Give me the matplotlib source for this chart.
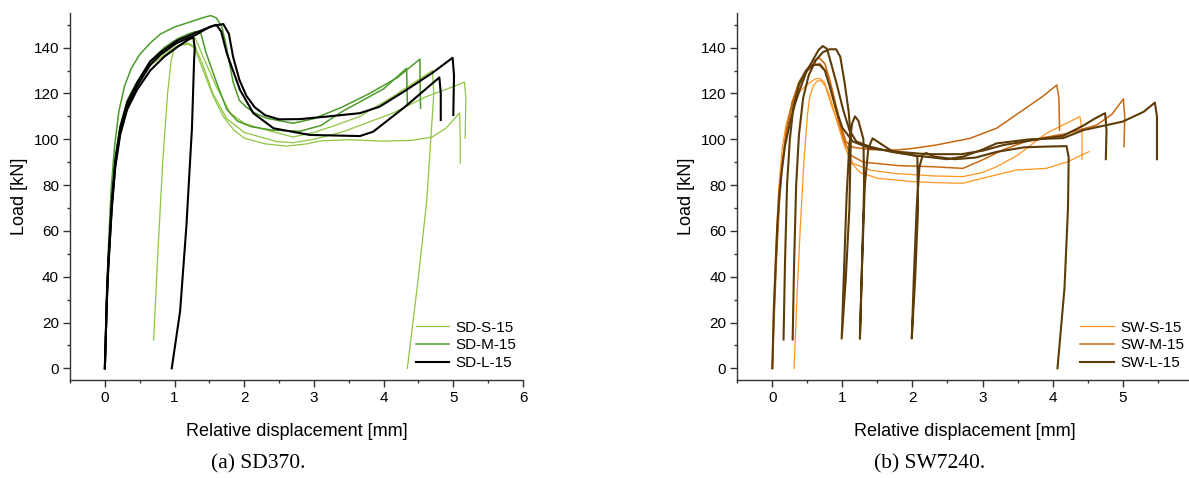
import matplotlib
matplotlib.use("Agg")
import matplotlib.pyplot as plt
from matplotlib.ticker import MultipleLocator

plt.rcParams['font.family'] = ['Liberation Sans', 'DejaVu Sans']

# ---- (a) SD370 : load-displacement curves, one list per specimen ----
sd_s_x = [
    [0.70, 0.76, 0.83, 0.90, 0.95, 0.99, 1.05, 1.20, 1.28, 1.35, 1.45, 1.55, 1.70, 1.85, 2.00, 2.30, 2.60, 2.90, 3.10, 3.50, 4.00, 4.40, 4.70, 4.90, 5.09, 5.10, 5.10],
    [0, 0.03, 0.05, 0.10, 0.15, 0.22, 0.32, 0.46, 0.65, 0.85, 1.05, 1.20, 1.30, 1.41, 1.60, 1.80, 2.00, 2.22, 2.70, 3.00, 3.30, 3.66, 4.13, 4.50, 4.70, 4.72, 4.62, 4.50, 4.34],
    [0, 0.03, 0.05, 0.10, 0.15, 0.22, 0.32, 0.46, 0.65, 0.85, 1.05, 1.20, 1.30, 1.40, 1.55, 1.75, 2.00, 2.46, 2.70, 3.00, 3.42, 4.13, 4.61, 5.00, 5.16, 5.18, 5.17],
]
sd_s_y = [
    [12.3, 50, 90, 120, 134, 139.5, 141, 141.5, 140, 135, 127, 119, 110, 104, 100.5, 98, 97, 98, 99.3, 99.8, 99.2, 99.5, 101, 105, 111.5, 100, 89.6],
    [0, 30, 45, 72, 90, 104, 115, 124, 133, 139, 143, 145, 144, 136, 123, 111.4, 107, 104.8, 101, 103, 106, 110, 118.6, 126, 130, 120, 73.5, 40, 0],
    [0, 32, 46, 72, 90, 104, 115, 123.5, 132, 137, 141, 142, 140, 133, 120, 109, 103, 99, 98.5, 100, 103.3, 111.4, 118.6, 123, 125, 118, 100.5],
]
sd_m_x = [
    [0, 0.03, 0.05, 0.09, 0.14, 0.20, 0.28, 0.38, 0.50, 0.65, 0.80, 1.00, 1.20, 1.40, 1.52, 1.60, 1.68, 1.74, 1.84, 1.93, 2.03, 2.15, 2.32, 2.70, 3.00, 3.40, 3.80, 4.20, 4.52, 4.53],
    [0, 0.03, 0.05, 0.10, 0.15, 0.22, 0.32, 0.46, 0.65, 0.85, 1.05, 1.20, 1.30, 1.38, 1.45, 1.60, 1.75, 1.90, 2.10, 2.40, 2.80, 3.10, 3.40, 3.70, 4.00, 4.33, 4.34],
]
sd_m_y = [
    [0, 35, 52, 78, 97, 112, 123, 131, 137, 142, 146, 149, 151, 153, 154, 153, 149, 141, 125, 117, 114, 111.5, 109.2, 107, 109, 114, 120, 127, 135, 113.5],
    [0, 33, 48, 74, 92, 106, 117, 125, 134, 140, 144, 146, 147, 146, 138, 125, 113, 108, 105.5, 104, 103.5, 106, 112, 117, 122, 131, 115.7],
]
sd_l_x = [
    [0, 0.03, 0.05, 0.10, 0.15, 0.22, 0.32, 0.46, 0.65, 0.80, 1.03, 1.30, 1.55, 1.70, 1.78, 1.84, 1.93, 2.03, 2.15, 2.30, 2.50, 2.80, 3.18, 3.66, 3.94, 4.30, 4.70, 4.99, 5.01, 5.00],
    [0, 0.03, 0.05, 0.10, 0.15, 0.22, 0.32, 0.46, 0.65, 0.80, 1.03, 1.30, 1.50, 1.60, 1.67, 1.75, 1.94, 2.13, 2.42, 2.94, 3.66, 3.85, 4.30, 4.80, 4.82, 4.82],
    [0, 0.03, 0.05, 0.10, 0.15, 0.22, 0.32, 0.46, 0.65, 0.85, 1.05, 1.20, 1.27, 1.29, 1.28, 1.25, 1.17, 1.08, 0.96],
]
sd_l_y = [
    [0, 33, 47, 73, 91, 105, 116, 124.5, 134, 138, 143, 146.5, 149.5, 150.3, 146, 136, 126, 119, 114, 110.5, 108.7, 108.8, 109.9, 111.4, 114.2, 121, 129, 135.6, 128, 110.6],
    [0, 31, 45, 71, 89, 103, 114, 123, 132.5, 137, 142, 145.5, 149, 150, 147, 137.5, 121.5, 111.4, 104.8, 101.9, 101.4, 103.3, 114, 127, 120, 108.4],
    [0, 30, 44, 70, 88, 102, 113, 121.5, 130, 136, 140.5, 143.5, 144.5, 140, 134, 105, 62, 25, 0],
]

# ---- (b) SW7240 ----
sw_s_x = [
    [0.31, 0.35, 0.40, 0.45, 0.50, 0.53, 0.58, 0.64, 0.70, 0.76, 0.84, 0.96, 1.05, 1.15, 1.40, 1.77, 2.30, 2.72, 3.00, 3.20, 3.50, 3.91, 4.20, 4.39, 4.42, 4.42],
    [0, 0.02, 0.05, 0.09, 0.14, 0.20, 0.28, 0.38, 0.50, 0.62, 0.68, 0.74, 0.82, 0.92, 1.02, 1.12, 1.25, 1.50, 2.00, 2.40, 2.72, 3.00, 3.49, 3.91, 4.20, 4.52],
]
sw_s_y = [
    [0, 30, 62, 90, 110, 118, 123, 125.5, 125.5, 123, 115, 105.5, 96, 89.5, 86.5, 85, 84, 83.7, 85.5, 88, 93, 102.6, 107, 109.9, 104, 91.3],
    [0, 25, 52, 78, 96, 107, 115, 120.5, 124, 126.5, 126.5, 125, 119, 108, 98, 90, 85.5, 83, 81.5, 81, 80.8, 83, 86.6, 87.3, 90, 94.6],
]
sw_m_x = [
    [0, 0.02, 0.05, 0.09, 0.14, 0.20, 0.28, 0.38, 0.50, 0.60, 0.675, 0.75, 0.82, 0.90, 0.98, 1.05, 1.15, 1.40, 1.77, 2.00, 2.34, 2.82, 3.20, 3.58, 3.85, 4.06, 4.09, 4.10],
    [0, 0.03, 0.06, 0.10, 0.15, 0.22, 0.30, 0.40, 0.50, 0.60, 0.68, 0.76, 0.84, 0.93, 1.02, 1.12, 1.30, 1.80, 2.30, 2.72, 3.00, 3.30, 3.68, 4.20, 4.63, 4.85, 5.01, 5.03, 5.02],
]
sw_m_y = [
    [0, 22, 45, 70, 90, 104, 116, 125, 131, 134.5, 135.4, 133, 126, 116, 106, 99, 96.5, 95.5, 95.3, 96, 97.5, 100.4, 104.8, 112.8, 118.5, 123.7, 118, 104],
    [0, 25, 48, 72, 91, 106, 117, 125, 130, 132.5, 133, 130, 121, 110, 100, 93, 90, 88.5, 88, 87.3, 91, 95.5, 99.7, 102.5, 106.2, 111, 117.6, 110, 96.8],
]
sw_l_x = [
    [0, 0.02, 0.04, 0.07, 0.10, 0.13, 0.18, 0.25, 0.32, 0.39, 0.48, 0.58, 0.66, 0.72, 0.78, 0.84, 0.92, 1.01, 1.10, 1.20, 1.39, 1.70, 2.01, 2.30, 2.49, 2.72, 3.00, 3.20, 3.68, 4.15, 4.44, 5.00, 5.30, 5.46, 5.49, 5.49],
    [0.16, 0.18, 0.21, 0.25, 0.30, 0.38, 0.48, 0.58, 0.675, 0.75, 0.83, 0.92, 1.00, 1.15, 1.40, 1.80, 2.20, 2.70, 3.00, 3.30, 3.70, 4.15, 4.44, 4.60, 4.75, 4.77, 4.76],
    [0.29, 0.31, 0.34, 0.38, 0.44, 0.52, 0.62, 0.72, 0.82, 0.91, 0.97, 1.03, 1.09, 1.12, 1.10, 1.05, 0.99, 1.02, 1.06, 1.10,
     1.14, 1.18, 1.23, 1.30, 1.31, 1.28, 1.25, 1.28, 1.32, 1.37, 1.43, 1.50, 1.70, 1.95, 2.07, 2.08, 2.04, 1.99, 2.02, 2.06,
     2.10, 2.15, 2.20, 2.30, 2.60, 2.90, 3.20, 3.60, 3.90, 4.20, 4.23, 4.22, 4.17, 4.07],
]
sw_l_y = [
    [0, 25, 40, 62, 76, 85, 97, 107, 115, 121.5, 129, 134.6, 139, 140.7, 139.5, 133, 124, 113, 104, 99, 96.8, 94.5, 93, 92, 91.3, 92.4, 95.5, 98.2, 100, 100.5, 104, 107.7, 112, 116, 110, 91.3],
    [12.6, 45, 80, 100, 114, 124, 130, 132.5, 132.5, 130, 122, 112, 105, 99, 96, 94.5, 93.5, 93.5, 95, 97.5, 99.5, 101.5, 106, 109, 111.4, 104, 91.3],
    [12.6, 45, 80, 102, 118, 128, 134.5, 138, 139.3, 139.3, 136, 125, 112, 100, 70, 40, 13, 40, 75, 98,
     107, 110, 108, 100, 80, 45, 13, 45, 80, 96, 100.4, 99, 95, 93.5, 92.5, 70, 40, 13, 40, 70,
     88, 93.5, 94, 92.5, 91.3, 92, 94.5, 96.5, 96.8, 97, 92, 70, 35, 0],
]

fig = plt.figure(figsize=(11.89, 4.78), dpi=100)
ax1 = fig.add_axes([70 / 1189, 98 / 478, 453 / 1189, 366.7 / 478])
ax2 = fig.add_axes([737.3 / 1189, 98 / 478, 455.4 / 1189, 366.7 / 478])


def draw(ax, xs, ys, label, color, lw):
    for i, (x, y) in enumerate(zip(xs, ys)):
        ax.plot(x, y, color=color, lw=lw, label=label if i == 0 else None,
                solid_joinstyle='round')


draw(ax1, sd_s_x, sd_s_y, "SD-S-15", "#8dc63f", 0.9)
draw(ax1, sd_m_x, sd_m_y, "SD-M-15", "#4c9a2a", 1.1)
draw(ax1, sd_l_x, sd_l_y, "SD-L-15", "#000000", 1.5)

draw(ax2, sw_s_x, sw_s_y, "SW-S-15", "#ff951f", 0.9)
draw(ax2, sw_m_x, sw_m_y, "SW-M-15", "#c8680e", 1.1)
draw(ax2, sw_l_x, sw_l_y, "SW-L-15", "#5e3c08", 1.5)

for ax in (ax1, ax2):
    ax.set_xlim(-0.5, 6)
    ax.set_ylim(-5.1, 155)
    ax.spines['top'].set_visible(False)
    ax.spines['right'].set_visible(False)
    for s in ('left', 'bottom'):
        ax.spines[s].set_linewidth(1.0)
        ax.spines[s].set_color('#333333')
    ax.xaxis.set_major_locator(MultipleLocator(1))
    ax.xaxis.set_minor_locator(MultipleLocator(0.5))
    ax.yaxis.set_major_locator(MultipleLocator(20))
    ax.yaxis.set_minor_locator(MultipleLocator(10))
    ax.tick_params(which='major', direction='out', length=5, width=1.0,
                   color='#333333', labelsize=11, pad=3)
    ax.tick_params(which='minor', direction='out', length=2.5, width=1.0,
                   color='#333333')
    ax.set_xlabel("Relative displacement [mm]", fontsize=13)
    ax.set_ylabel("Load [kN]", fontsize=13)
    ax.xaxis.set_label_coords(0.5, -0.118)
    ax.yaxis.set_label_coords(-0.092, 0.5)

ax1.legend(loc='lower right', bbox_to_anchor=(0.985, 0.026), frameon=False,
           fontsize=11, borderpad=0, borderaxespad=0, handlelength=2.2,
           handletextpad=0.4, labelspacing=0.26)
ax2.legend(loc='lower right', bbox_to_anchor=(0.981, 0.026), frameon=False,
           fontsize=11, borderpad=0, borderaxespad=0, handlelength=2.2,
           handletextpad=0.4, labelspacing=0.26)

fig.text(258 / 1189, 0.029, "(a) SD370.", family='Liberation Serif',
         fontsize=15.5, ha='center', va='center')
fig.text(930 / 1189, 0.029, "(b) SW7240.", family='Liberation Serif',
         fontsize=15.5, ha='center', va='center')

fig.savefig("out.png", dpi=100)
